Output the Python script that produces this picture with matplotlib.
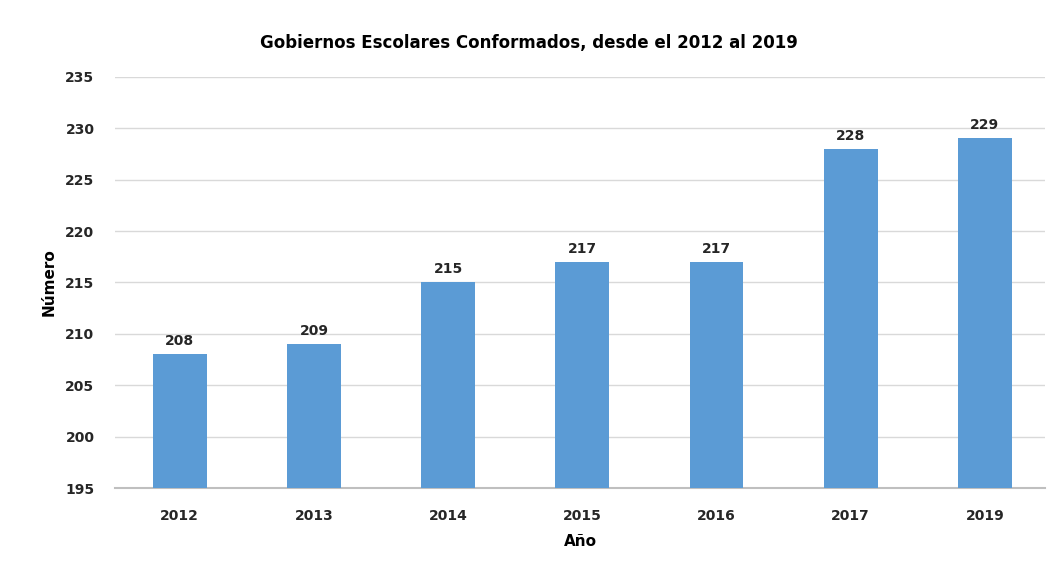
import matplotlib.pyplot as plt
import numpy as np

# datos
anios = ['2012', '2013', '2014', '2015', '2016', '2017', '2019']
gobiernos = [208, 209, 215, 217, 217, 228, 229]
yticks = [195, 200, 205, 210, 215, 220, 225, 230, 235]

fig = plt.figure(figsize=(10.58, 5.73), dpi=100)
fig.patch.set_facecolor('white')
ax = fig.add_axes([0.109, 0.148, 0.879, 0.718])

x = np.arange(len(anios))
bars = ax.bar(x, gobiernos, width=0.4, color='#5B9BD5', zorder=3)
ax.set_ylim(195, 235)
ax.set_xlim(-0.48, len(anios) - 0.55)
ax.set_yticks(yticks)
ax.set_xticks(x)
ax.set_xticklabels(anios)
ax.grid(axis='y', color='#d9d9d9', linewidth=1, zorder=0)
ax.tick_params(length=0, labelsize=10, colors='#262626')
ax.tick_params(axis='y', pad=15)
ax.tick_params(axis='x', pad=15)
for lbl in ax.get_xticklabels() + ax.get_yticklabels():
    lbl.set_fontweight('bold')
for s in ['top', 'right', 'left']:
    ax.spines[s].set_visible(False)
ax.spines['bottom'].set_color('#bfbfbf')
ax.spines['bottom'].set_linewidth(1.5)

for bar, val in zip(bars, gobiernos):
    ax.text(bar.get_x() + bar.get_width() / 2, val + 0.6, f'{val}',
            ha='center', va='bottom', fontsize=10, fontweight='bold', color='#262626')

ax.set_xlabel('Año', fontsize=11, fontweight='bold', labelpad=8)
ax.set_ylabel('Número', fontsize=11, fontweight='bold', labelpad=6)
fig.suptitle('Gobiernos Escolares Conformados, desde el 2012 al 2019',
             fontsize=12, fontweight='bold', y=0.94)

plt.savefig('out.png', dpi=100, facecolor='white')
